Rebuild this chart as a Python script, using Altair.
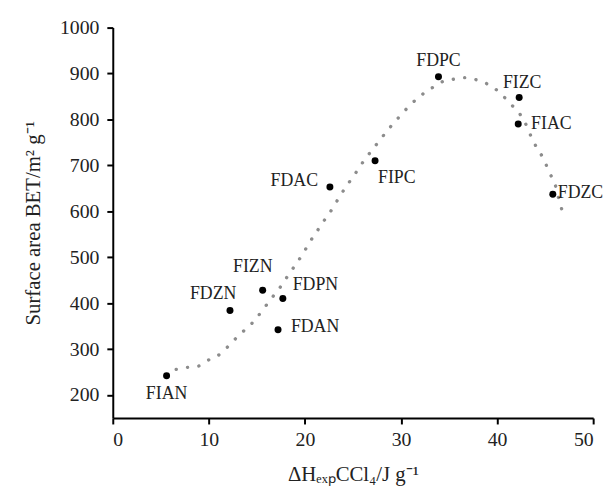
import altair as alt
import pandas as pd

# Samples
names = ["FIAN", "FDZN", "FIZN", "FDPN", "FDAN", "FDAC", "FIPC", "FDPC", "FIZC", "FIAC", "FDZC"]
enthalpy = [5.6, 12.2, 15.6, 17.7, 17.2, 22.6, 27.3, 33.9, 42.3, 42.2, 45.8]
surface = [242, 384, 428, 410, 342, 653, 710, 893, 848, 790, 637]

# Dotted trend curve
curve_x = [6.6, 7.7, 8.9, 10.1, 11.3, 12.4, 13.6, 14.7, 15.6, 16.5, 17.4, 18.2, 19.0, 19.8,
           20.5, 21.3, 22.1, 22.9, 23.6, 24.4, 25.2, 26.0, 26.9, 27.8, 28.7, 29.7, 30.8,
           32.0, 33.1, 34.4, 35.6, 36.7, 37.9, 39.1, 40.2, 41.3, 42.4, 43.1, 43.6, 44.2,
           44.9, 45.4, 46.0, 46.6, 47.0]
curve_y = [256, 260, 263, 278, 291, 315, 339, 361, 385, 410, 434, 459, 483, 508,
           533, 558, 583, 607, 632, 657, 681, 706, 731, 755, 779, 803, 828,
           851, 867, 883, 888, 891, 886, 876, 860, 836, 811, 785, 760, 736,
           712, 686, 661, 613, 589]

x_ticks = [0, 10, 20, 30, 40, 50]
y_ticks = [200, 300, 400, 500, 600, 700, 800, 900, 1000]

pts = pd.DataFrame({"name": names, "x": enthalpy, "y": surface})
curve = pd.DataFrame({"x": curve_x, "y": curve_y})

FONT = "Liberation Serif"

xs = alt.Scale(domain=[0, 50], nice=False, zero=False)
ys = alt.Scale(domain=[150, 1000], nice=False, zero=False)

xenc = alt.X("x:Q", scale=xs,
             axis=alt.Axis(values=x_ticks, title="ΔHₑₓₚCCl₄/J g⁻¹", grid=False,
                           titlePadding=14, format="d"))
yenc = alt.Y("y:Q", scale=ys,
             axis=alt.Axis(values=y_ticks, title="Surface area BET/m² g⁻¹", grid=False,
                           titlePadding=16, format="d"))

line = alt.Chart(curve).mark_line(
    color="#8c8c8c", strokeWidth=3.4, strokeDash=[0.1, 11.5], strokeCap="round",
    interpolate="monotone"
).encode(x=xenc, y=yenc)

dots = alt.Chart(pts).mark_point(filled=True, color="black", size=50, opacity=1).encode(x="x:Q", y="y:Q")

# label placement: (dx, dy, align)
label_pos = {
    "FIAN": (0, 18, "center"),
    "FDZN": (-17, -17, "center"),
    "FIZN": (-10, -24, "center"),
    "FDPN": (10, -14, "left"),
    "FDAN": (13, -3, "left"),
    "FDAC": (-12, -6, "right"),
    "FIPC": (3, 17, "left"),
    "FDPC": (0, -16, "center"),
    "FIZC": (3, -15, "center"),
    "FIAC": (13, 0, "left"),
    "FDZC": (5, -1, "left"),
}

layers = [line, dots]
for nm, (dx, dy, al) in label_pos.items():
    layers.append(
        alt.Chart(pts).transform_filter(alt.datum.name == nm).mark_text(
            font=FONT, fontSize=18, color="#222", dx=dx, dy=dy, align=al, baseline="middle"
        ).encode(x="x:Q", y="y:Q", text="name:N")
    )

chart = alt.layer(*layers).properties(
    width=486, height=395,
    autosize=alt.AutoSizeParams(type="none"),
    padding={"left": 106, "top": 17, "right": 14, "bottom": 72},
).configure_view(stroke=None).configure_axis(
    labelFont=FONT, titleFont=FONT, labelFontSize=20, titleFontSize=21,
    labelColor="#222", titleColor="#222", titleFontWeight="normal",
    domainColor="black", domainWidth=2, tickColor="black", tickWidth=2, tickSize=6,
    labelPadding=6
).configure_axisY(labelPadding=8)

chart.save("out.html", embed_options={"renderer": "svg", "actions": False})
